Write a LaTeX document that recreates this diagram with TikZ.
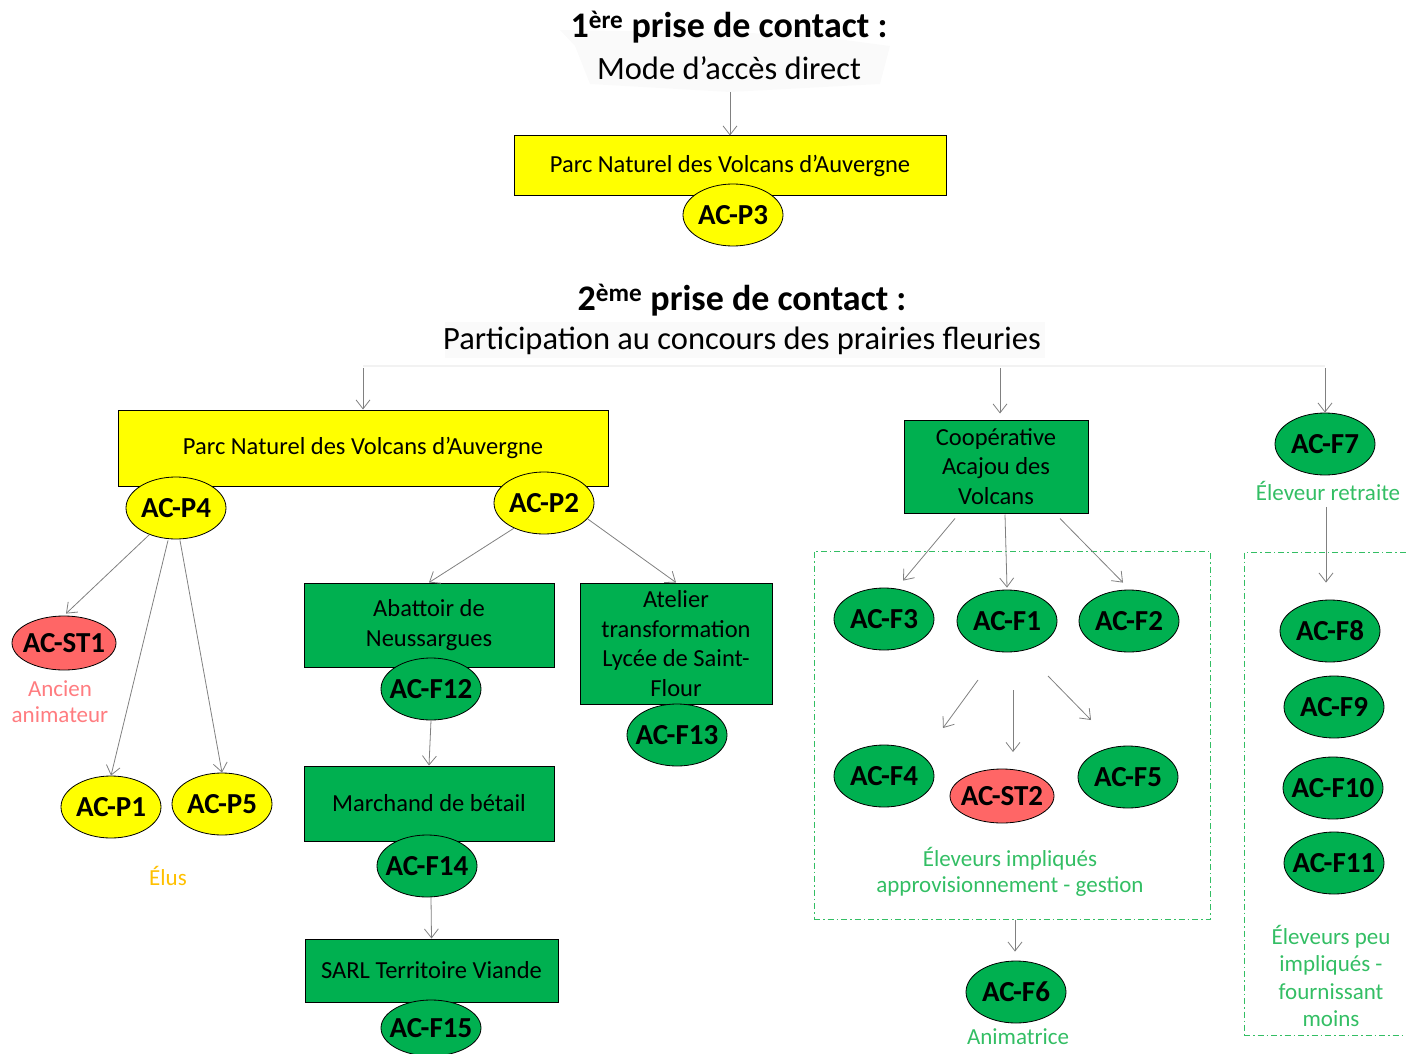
\documentclass[tikz,border=0pt]{standalone}
\usepackage{fontspec}
\setmainfont{Carlito}
\usetikzlibrary{arrows.meta,shapes.geometric,calc}
\definecolor{yel}{RGB}{255,255,0}
\definecolor{grn}{RGB}{0,176,80}
\definecolor{redn}{RGB}{255,102,102}
\definecolor{lblgreen}{RGB}{51,190,100}
\definecolor{lblred}{RGB}{255,124,128}
\definecolor{lblyel}{RGB}{255,192,0}
\definecolor{arr}{RGB}{128,128,128}
\newcommand{\zw}[1]{\makebox[0pt]{#1}}
\begin{document}
\begin{tikzpicture}[x=1pt,y=-1pt,
 ell/.style={ellipse, draw=black, line width=0.8pt, minimum width=100pt, minimum height=62pt, inner sep=0pt, font=\fontsize{29}{30}\selectfont\bfseries},
 yell/.style={ell, fill=yel},
 gell/.style={ell, fill=grn},
 rell/.style={ell, fill=redn, minimum width=104pt, minimum height=54pt},
 boxn/.style={draw=black, line width=1pt, align=center, inner sep=0pt, font=\fontsize{24.5}{29.5}\selectfont},
 ybox/.style={boxn, fill=yel},
 gbox/.style={boxn, fill=grn},
 arrow/.style={draw=arr, line width=0.8pt, -{Straight Barb[length=9pt,width=14pt]}},
 dbox/.style={draw=lblgreen, line width=1pt, dash pattern=on 6pt off 3pt on 1.5pt off 3pt, inner sep=0pt},
 lbl/.style={align=center, inner sep=0pt, font=\fontsize{23}{26}\selectfont},
 ttl/.style={inner sep=0pt, font=\fontsize{36}{38}\selectfont\bfseries},
 sub/.style={inner sep=0pt, font=\fontsize{32.5}{34}\selectfont}
]
\useasboundingbox (0,0) rectangle (1406,1054);

% faint title backgrounds
\fill[gray!4] (560,30) -- (800,34) -- (890,46) -- (880,84) -- (730,92) -- (590,84) -- (575,46) -- cycle;
\fill[gray!4] (445,322) -- (1045,322) -- (1045,358) -- (445,358) -- cycle;
\draw[gray!10, line width=2pt] (363,366) -- (1325,366);

% titles
\node[ttl] (t1) at (729,27) {1\textsuperscript{ère} prise de contact :};
\node[sub] (st1) at (729,68) {Mode d’accès direct};
\node[ttl] (t2) at (742,300) {2\textsuperscript{ème} prise de contact :};
\node[sub] (st2) at (742,341) {Participation au concours des prairies fleuries};

\coordinate (c1) at (730,92);
\coordinate (s1) at (363,368);
\coordinate (s2) at (1000,368);
\coordinate (s3) at (1325,368);

% first contact
\node[ybox, minimum width=432pt, minimum height=59pt] (parc1) at (730,165.5) {Parc Naturel des Volcans d’Auvergne};
\node[yell] (p3) at (733,215) {\zw{AC-P3}};
\draw[arrow] (c1) -- (parc1.north);

% second contact - Parc
\node[ybox, minimum width=490pt, minimum height=76pt] (parc2) at (363,448) {Parc Naturel des Volcans d’Auvergne};
\node[yell] (p4) at (176,508) {\zw{AC-P4}};
\node[yell] (p2) at (544,503) {\zw{AC-P2}};
\node[rell] (st1n) at (64,643) {\zw{AC-ST1}};
\node[lbl, text=lblred] (lanc) at (60,702) {Ancien\\animateur};
\node[yell] (p1) at (111,807) {\zw{AC-P1}};
\node[yell] (p5) at (222,804) {\zw{AC-P5}};
\node[lbl, text=lblyel] (lelus) at (168,876) {Élus};
\draw[arrow] (s1) -- (parc2.north);
\draw[arrow] (p4.-135) -- ($(st1n.north)+(2,-2)$);
\draw[arrow] ($(p4.south)+(-8,1)$) -- (p1.north);
\draw[arrow] ($(p4.south)+(4,1)$) -- (p5.north);

\node[gbox, minimum width=250pt, minimum height=84pt] (abat) at (429,625) {Abattoir de\\Neussargues};
\node[gell] (f12) at (431,689) {\zw{AC-F12}};
\node[gbox, minimum width=250pt, minimum height=75pt] (march) at (429,803.5) {Marchand de bétail};
\node[gell] (f14) at (427,866) {\zw{AC-F14}};
\node[gbox, minimum width=253pt, minimum height=63pt] (sarl) at (431.5,970.5) {SARL Territoire Viande};
\node[gell, minimum height=56pt] (f15) at (431,1028) {\zw{AC-F15}};
\node[gbox, minimum width=192pt, minimum height=121pt] (atel) at (676,643.5) {Atelier\\transformation\\Lycée de Saint-\\Flour};
\node[gell] (f13) at (677,735) {\zw{AC-F13}};
\draw[arrow] (p2.-140) -- (abat.north);
\draw[arrow] (p2.-20) -- (atel.north);
\draw[arrow] (f12.south) -- (march.north);
\draw[arrow] ($(f14.south)+(4,0)$) -- (sarl.north);

% cooperative
\node[gbox, minimum width=184pt, minimum height=93pt] (coop) at (996,466.5) {Coopérative\\Acajou des\\Volcans};
\draw[arrow] (s2) -- ($(s2 |- coop.north)+(0,-6)$);
\node[dbox, minimum width=396pt, minimum height=368pt] (grp1) at (1012,735) {};
\node[gell] (f3) at (884,619) {\zw{AC-F3}};
\node[gell] (f1) at (1007,621) {\zw{AC-F1}};
\node[gell] (f2) at (1129,621) {\zw{AC-F2}};
\node[gell] (f4) at (884,776) {\zw{AC-F4}};
\node[rell] (st2n) at (1002,796) {\zw{AC-ST2}};
\node[gell] (f5) at (1128,777) {\zw{AC-F5}};
\node[lbl, text=lblgreen] (limp) at (1010,872) {Éleveurs impliqués\\approvisionnement - gestion};
\draw[arrow] ($(coop.south)+(-41,5)$) -- ($(f3.north)+(19,-7)$);
\draw[arrow] ($(coop.south)+(9,1)$) -- ($(f1.north)+(0,-2)$);
\draw[arrow] ($(coop.south)+(64,5)$) -- ($(f2.north)+(-6,-7)$);
\coordinate (i1s) at (978,680); \coordinate (i1e) at (943,728);
\coordinate (i2s) at (1013,690); \coordinate (i2e) at (1013,752);
\coordinate (i3s) at (1048,676); \coordinate (i3e) at (1091,720);
\draw[arrow] (i1s) -- (i1e);
\draw[arrow] (i2s) -- (i2e);
\draw[arrow] (i3s) -- (i3e);
\node[gell] (f6) at (1016,992) {\zw{AC-F6}};
\node[lbl, text=lblgreen] (lanim) at (1018,1037) {Animatrice};
\draw[arrow] ($(grp1.south)+(3,0)$) -- ($(f6.north)+(-1,-9)$);

% retired / low involvement
\node[gell] (f7) at (1325,444) {\zw{AC-F7}};
\node[lbl, text=lblgreen] (lretr) at (1328,491) {Éleveur retraite};
\draw[arrow] (s3) -- (f7.north);
\node[dbox, minimum width=170pt, minimum height=483pt] (grp2) at (1329,793.5) {};
\node[gell] (f8) at (1330,631) {\zw{AC-F8}};
\node[gell] (f9) at (1334,707) {\zw{AC-F9}};
\node[gell] (f10) at (1333,788) {\zw{AC-F10}};
\node[gell] (f11) at (1334,863) {\zw{AC-F11}};
\node[lbl, text=lblgreen, font=\fontsize{23}{27.5}\selectfont] (lpeu) at (1331,976) {Éleveurs peu\\impliqués -\\fournissant\\moins};
\draw[arrow] ($(lretr.south)+(-2,6)$) -- ($(f8.north)+(-4,-17)$);
\end{tikzpicture}
\end{document}
